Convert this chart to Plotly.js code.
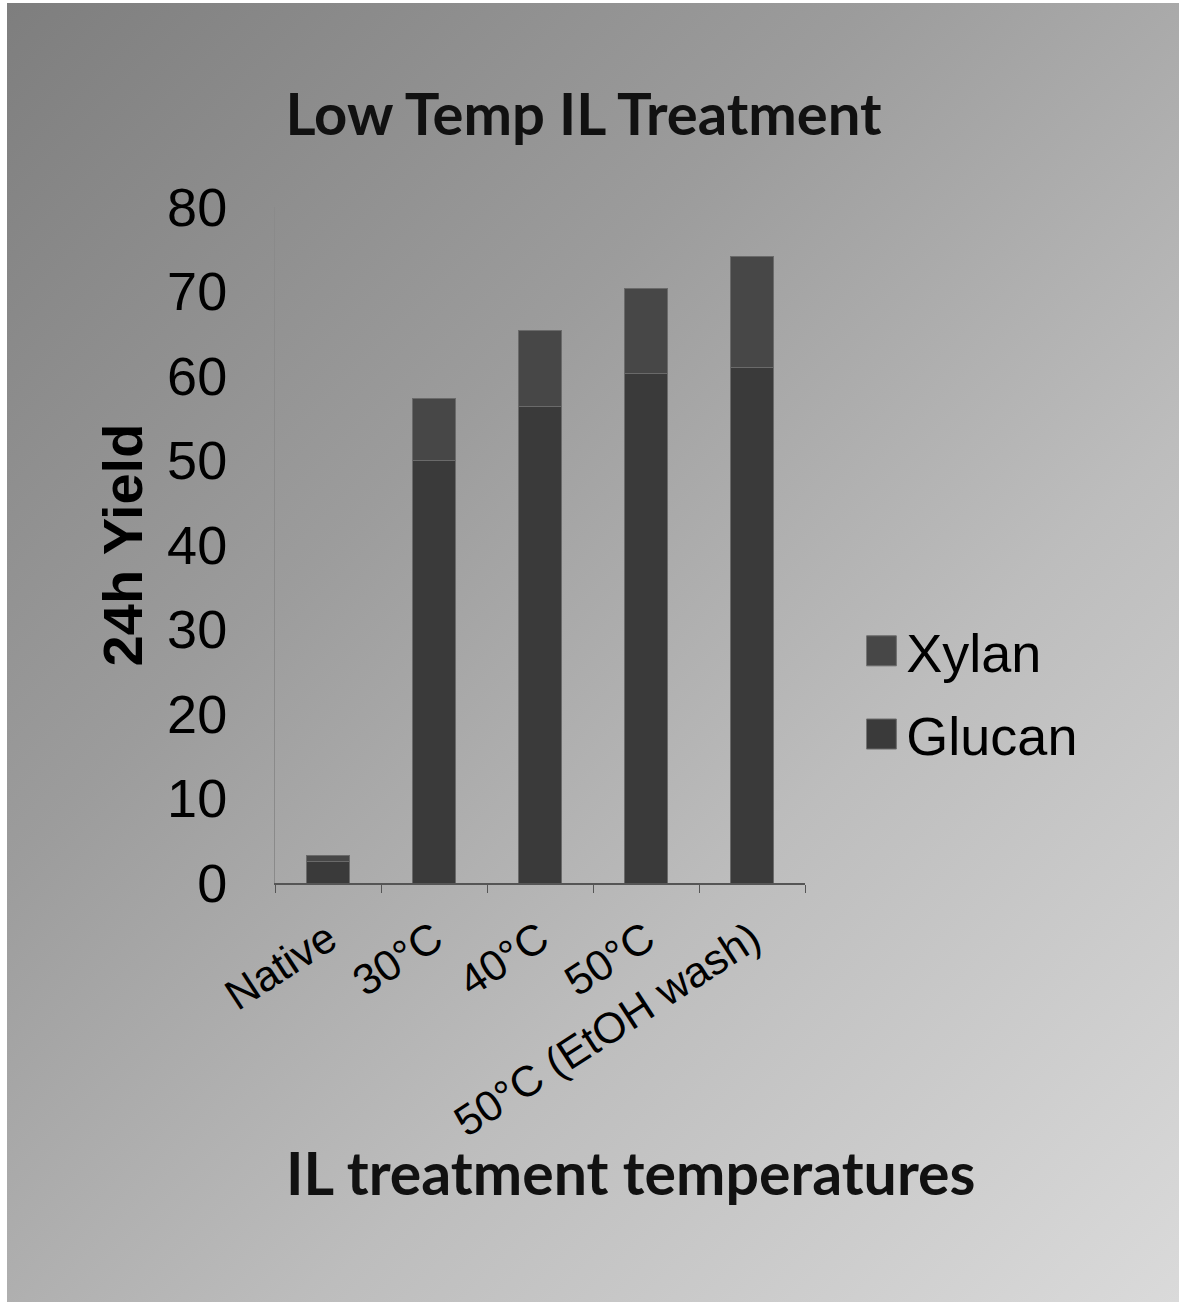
<!DOCTYPE html>
<html>
<head>
<meta charset="utf-8">
<script src="https://cdn.plot.ly/plotly-3.0.1.min.js"></script>
<style>
  html, body { margin: 0; padding: 0; background: #ffffff; }
  #wrap { position: absolute; left: 7px; top: 3px; width: 1172px; height: 1299px;
          background: linear-gradient(135deg, #7e7e7e 0%, #9c9c9c 35%, #bdbdbd 65%, #dadada 100%); }
  #chart { position: absolute; left: -7px; top: -3px; width: 1179px; height: 1302px; }
</style>
</head>
<body>
<div id="wrap"><div id="chart"></div></div>
<script>
const categories = ["Native", "30°C", "40°C", "50°C", "50°C (EtOH wash)"];
const glucan = [2.6, 50.0, 56.4, 60.3, 61.0];
const xylan = [0.6, 7.3, 9.0, 10.0, 13.1];
const yTicks = [0, 10, 20, 30, 40, 50, 60, 70, 80];

const traces = [
  { type: "bar", name: "Glucan", legendgroup: "g", legendrank: 2, x: categories, y: glucan, width: 0.4,
    marker: { color: "#3a3a3a", line: { color: "#6a6a6a", width: 1 } } },
  { type: "bar", name: "Xylan", legendgroup: "x", legendrank: 1, x: categories, y: xylan, width: 0.4,
    marker: { color: "#474747", line: { color: "#6a6a6a", width: 1 } } }
];

const layout = {
  width: 1179, height: 1302,
  paper_bgcolor: "rgba(0,0,0,0)", plot_bgcolor: "rgba(0,0,0,0)",
  margin: { l: 275, r: 374, t: 207, b: 419, pad: 0 },
  barmode: "stack",
  showlegend: true,
  legend: { x: 1.1157, y: 0.405, xanchor: "left", yanchor: "top",
            traceorder: "grouped", tracegroupgap: 10, bgcolor: "rgba(0,0,0,0)",
            font: { family: "Liberation Sans, Arial, sans-serif", size: 54, color: "#000" } },
  title: { text: "Low Temp IL Treatment", xref: "container", yref: "container",
           x: 0.495, xanchor: "center", y: 0.912, yanchor: "middle",
           font: { family: "Lato, sans-serif", size: 58, weight: 700, color: "#111" } },
  font: { family: "Liberation Sans, Arial, sans-serif", color: "#000" },
  xaxis: {
    type: "category", showline: true, linecolor: "#555", linewidth: 2,
    ticks: "outside", tickson: "boundaries", ticklen: 8, tickcolor: "#555",
    tickangle: -33, tickfont: { size: 43, color: "#000" }, ticklabelstandoff: 12,
    showgrid: false, zeroline: false
  },
  yaxis: {
    range: [0, 80], tickvals: yTicks, showline: true, linecolor: "#8a8a8a", linewidth: 1,
    showgrid: false, zeroline: false, ticks: "", ticklabelstandoff: 36,
    tickfont: { size: 54, color: "#000" },
    title: { text: "24h Yield", standoff: 6,
             font: { size: 56, weight: 700, color: "#000" } }
  },
  annotations: [
    { text: "IL treatment temperatures", xref: "paper", yref: "paper",
      x: (630 - 275) / 530, y: -(1172 - 883) / 676, xanchor: "center", yanchor: "middle",
      showarrow: false, font: { family: "Lato, sans-serif", size: 59, weight: 700, color: "#111" } }
  ]
};

function enlargeLegendSwatches(gd) {
  gd.querySelectorAll(".legend .legendpoints path").forEach(function (p) {
    if (p.getAttribute("data-big")) return;
    var t = p.getAttribute("transform") || "";
    p.setAttribute("transform", (t + " translate(-5,0) scale(2.5)").trim());
    p.setAttribute("data-big", "1");
    p.style.strokeWidth = "0.4px";
  });
}

Plotly.newPlot("chart", traces, layout, { displayModeBar: false, staticPlot: true }).then(function (gd) {
  enlargeLegendSwatches(gd);
  gd.on("plotly_afterplot", function () { enlargeLegendSwatches(gd); });
});
</script>
</body>
</html>
